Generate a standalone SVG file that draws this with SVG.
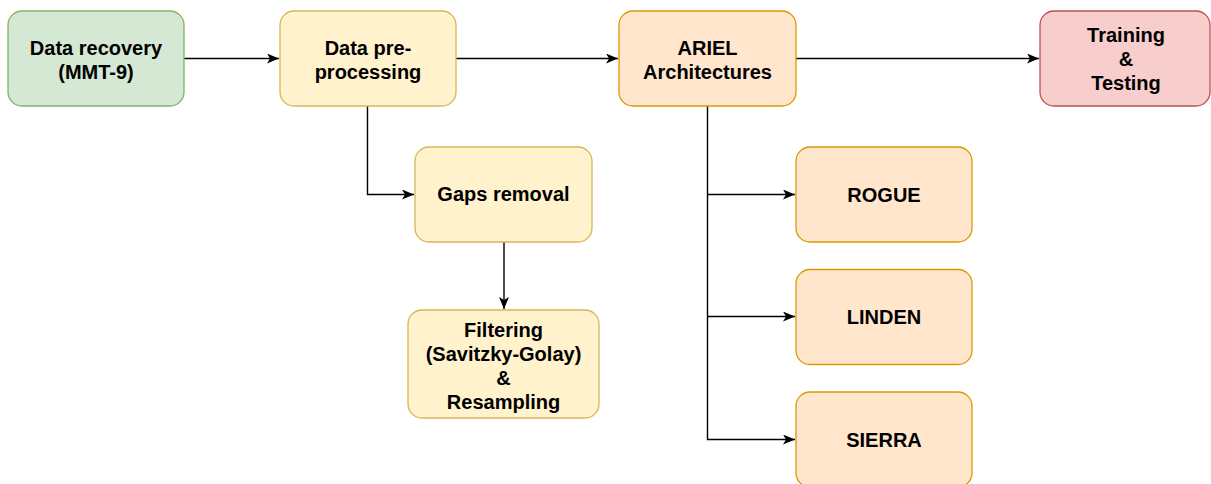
<svg xmlns="http://www.w3.org/2000/svg" width="1211" height="484" viewBox="0 0 1211 484">
  <style>
    .box { stroke-width: 1.3; }
    .green { fill: #d5e8d4; stroke: #82b366; }
    .yellow { fill: #fff2cc; stroke: #d6b656; }
    .orange { fill: #ffe6cc; stroke: #d79b00; }
    .red { fill: #f8cecc; stroke: #b85450; }
    .label { font-family: "Liberation Sans", Arial, Helvetica, sans-serif; font-size: 20px; font-weight: bold; fill: #000; text-anchor: middle; }
    .edge { fill: none; stroke: #000; stroke-width: 1.4; marker-end: url(#arrow); }
  </style>
  <defs>
    <!-- notched arrowhead, tip at the path end -->
    <marker id="arrow" viewBox="0 0 12 10" refX="12" refY="5" markerWidth="12" markerHeight="10" markerUnits="userSpaceOnUse" orient="auto">
      <path d="M0,0 L12,5 L0,10 L3,5 Z" fill="#000"/>
    </marker>
  </defs>
  <rect width="1211" height="484" fill="#fff"/>

  <g id="connectors">
    <path class="edge" d="M184,58.5 H279"/>
    <path class="edge" d="M456,58.5 H618"/>
    <path class="edge" d="M796,58.5 H1039"/>
    <path class="edge" d="M367.5,106 V194.5 H414"/>
    <path class="edge" d="M504,242 V309"/>
    <path class="edge" d="M707.5,106 V439.5 H795"/>
    <path class="edge" d="M707.5,194.5 H795"/>
    <path class="edge" d="M707.5,316.5 H795"/>
  </g>

  <g id="node-data-recovery">
    <rect class="box green" x="8" y="11" width="176" height="95" rx="14"/>
    <text class="label" x="96" y="55">Data recovery</text>
    <text class="label" x="96" y="79">(MMT-9)</text>
  </g>
  <g id="node-preprocessing">
    <rect class="box yellow" x="280" y="11" width="176" height="95" rx="14"/>
    <text class="label" x="368" y="55">Data pre-</text>
    <text class="label" x="368" y="79">processing</text>
  </g>
  <g id="node-ariel">
    <rect class="box orange" x="619" y="11" width="177" height="95" rx="14"/>
    <text class="label" x="707.5" y="55">ARIEL</text>
    <text class="label" x="707.5" y="79">Architectures</text>
  </g>
  <g id="node-training">
    <rect class="box red" x="1040" y="11" width="170" height="95" rx="14"/>
    <text class="label" x="1126" y="42">Training</text>
    <text class="label" x="1126" y="66">&amp;</text>
    <text class="label" x="1126" y="90">Testing</text>
  </g>
  <g id="node-gaps">
    <rect class="box yellow" x="415" y="147" width="177" height="95" rx="14"/>
    <text class="label" x="503.5" y="201">Gaps removal</text>
  </g>
  <g id="node-filtering">
    <rect class="box yellow" x="408" y="310" width="191" height="108" rx="14"/>
    <text class="label" x="503.5" y="337">Filtering</text>
    <text class="label" x="503.5" y="361">(Savitzky-Golay)</text>
    <text class="label" x="503.5" y="385">&amp;</text>
    <text class="label" x="503.5" y="409">Resampling</text>
  </g>
  <g id="node-rogue">
    <rect class="box orange" x="796" y="147" width="176" height="95" rx="14"/>
    <text class="label" x="884" y="201.5">ROGUE</text>
  </g>
  <g id="node-linden">
    <rect class="box orange" x="796" y="269.5" width="176" height="95" rx="14"/>
    <text class="label" x="884" y="324">LINDEN</text>
  </g>
  <g id="node-sierra">
    <rect class="box orange" x="796" y="392" width="176" height="95" rx="14"/>
    <text class="label" x="884" y="446.5">SIERRA</text>
  </g>
</svg>
